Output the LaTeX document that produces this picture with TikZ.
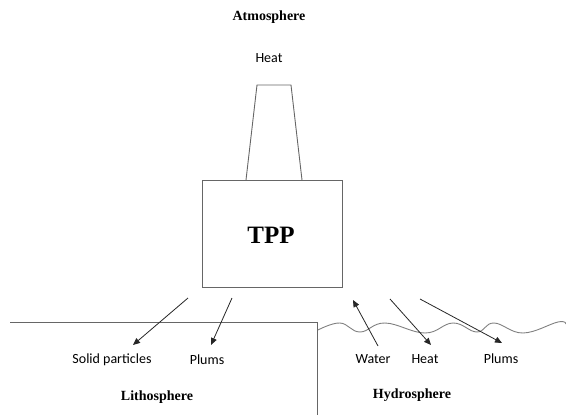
\documentclass[tikz,border=0pt]{standalone}
\usepackage{fontspec}
\setmainfont{Liberation Serif}
\newfontfamily\labelfont{Carlito}
\usetikzlibrary{arrows.meta}
\begin{document}
\begin{tikzpicture}[x=1pt,y=-1pt,
  title/.style={font=\fontsize{14}{16}\selectfont\bfseries, inner sep=0pt},
  lab/.style={font=\labelfont\fontsize{14}{16}\selectfont, inner sep=0pt},
  outline/.style={draw=black!60, line width=0.9pt},
  flow/.style={draw=black!85, line width=0.8pt, -{Triangle[length=7pt,width=6pt]}},
  wave/.style={draw=black!50, line width=0.9pt}]
\useasboundingbox (0,0) rectangle (566,415);
% titles
\node[title] (atm) at (269,17) {Atmosphere};
\node[lab] (heattop) at (269,58) {Heat};
% chimney
\draw[outline] (246,180) -- (257,85) -- (291,85) -- (302,180);
% plant box
\node[outline, minimum width=140pt, minimum height=107pt, inner sep=0pt] (tpp) at (272,233.5) {};
\node[font=\fontsize{25}{28}\selectfont\bfseries, inner sep=0pt] (tpptext) at (271,235) {TPP};
% lithosphere boundary
\coordinate (l1) at (10,322);
\coordinate (l2) at (317,322);
\coordinate (l3) at (317,415);
\draw[outline] (l1) -- (l2) -- (l3);
% water surface
\draw[wave] plot[smooth, tension=0.7] coordinates {(318,330) (340,323) (360,332) (385,323) (425,333) (453,323) (477,332) (494,323) (523,333) (558,322) (566,324)};
% labels
\node[lab] (solid) at (112,360) {Solid particles};
\node[lab] (plumsL) at (207,360) {Plums};
\node[title] (litho) at (157,397) {Lithosphere};
\node[lab] (water) at (373,359) {Water};
\node[lab] (heatR) at (425,359) {Heat};
\node[lab] (plumsR) at (501,359) {Plums};
\node[title] (hydro) at (412,395) {Hydrosphere};
% arrows
\coordinate (a1s) at (188,298); \coordinate (a1e) at (133,345);
\coordinate (a2s) at (232,298); \coordinate (a2e) at (211,345);
\coordinate (a3s) at (378,346); \coordinate (a3e) at (353,300);
\coordinate (a4s) at (390,299); \coordinate (a4e) at (431,345);
\coordinate (a5s) at (420,299); \coordinate (a5e) at (502,343);
\draw[flow] (a1s) -- (a1e);
\draw[flow] (a2s) -- (a2e);
\draw[flow] (a3s) -- (a3e);
\draw[flow] (a4s) -- (a4e);
\draw[flow] (a5s) -- (a5e);
\end{tikzpicture}
\end{document}
